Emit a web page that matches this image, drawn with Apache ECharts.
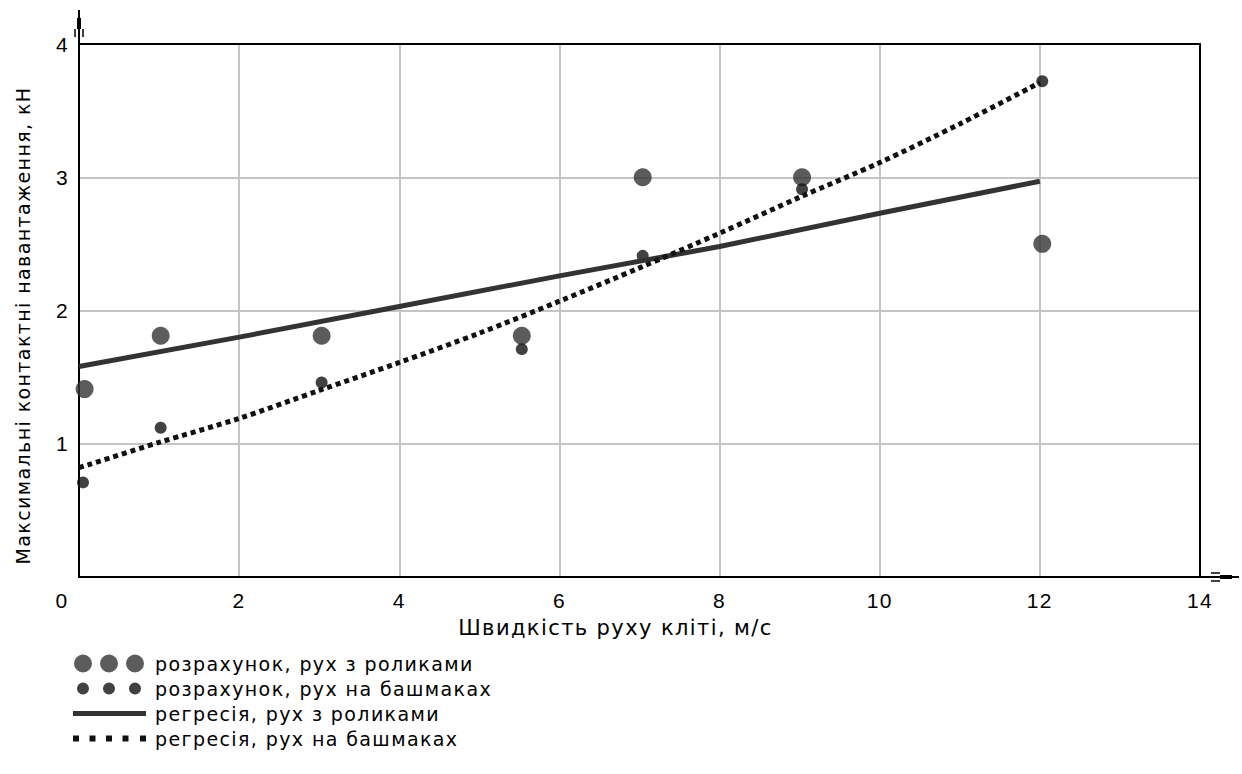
<!DOCTYPE html>
<html>
<head>
<meta charset="utf-8">
<script src="https://cdn.jsdelivr.net/npm/echarts@6/dist/echarts.min.js"></script>
<style>
  html, body { margin: 0; padding: 0; background: #fff; }
  #chart { width: 1242px; height: 774px; }
  #chart text { letter-spacing: 1.4px; }
</style>
</head>
<body>
<div id="chart"></div>
<script>
// розрахунок, рух з роликами
const rollerX = [0.07, 1.02, 3.03, 5.53, 7.04, 9.03, 12.03];
const rollerY = [1.41, 1.81, 1.81, 1.81, 3.0, 3.0, 2.5];
// розрахунок, рух на башмаках
const shoeX = [0.05, 1.02, 3.03, 5.53, 7.04, 9.03, 12.03];
const shoeY = [0.71, 1.12, 1.46, 1.71, 2.41, 2.91, 3.72];
// регресія, рух з роликами
const regRollerX = [0, 2, 4, 6, 8, 10, 12];
const regRollerY = [1.58, 1.80, 2.03, 2.26, 2.48, 2.73, 2.97];
// регресія, рух на башмаках
const regShoeX = [0, 1, 2, 3, 4, 5, 6, 7, 8, 9, 10, 11, 12];
const regShoeY = [0.82, 1.01, 1.19, 1.40, 1.61, 1.83, 2.07, 2.32, 2.58, 2.85, 3.11, 3.40, 3.71];

const names = [
  "розрахунок, рух з роликами",
  "розрахунок, рух на башмаках",
  "регресія, рух з роликами",
  "регресія, рух на башмаках",
];

const font = "DejaVu Sans, Verdana, sans-serif";
const numFont = "Liberation Sans, Arial, sans-serif";
const gridLeft = 79, gridRight = 42, gridTop = 44, gridBottom = 197;
const W = 1242, H = 774;

const pair = (xs, ys) => xs.map((x, i) => [x, ys[i]]);

// legend icons (bbox padded to 73x18 so shapes keep their size)
const pad = "M0,0L0.01,0M73,18L72.99,18";
const bigDots = "path://" + pad +
  "M1,9A9,9 0 1 0 19,9A9,9 0 1 0 1,9Z" +
  "M27,9A9,9 0 1 0 45,9A9,9 0 1 0 27,9Z" +
  "M53,9A9,9 0 1 0 71,9A9,9 0 1 0 53,9Z";
const smallDots = "path://" + pad +
  "M4,9A6,6 0 1 0 16,9A6,6 0 1 0 4,9Z" +
  "M30,9A6,6 0 1 0 42,9A6,6 0 1 0 30,9Z" +
  "M56,9A6,6 0 1 0 68,9A6,6 0 1 0 56,9Z";
const solidIcon = "path://" + pad + "M0,6.5L73,6.5L73,11.5L0,11.5Z";
const dotIcon = "path://" + pad +
  "M0,6L6,6L6,12L0,12Z M16.5,6L22.5,6L22.5,12L16.5,12Z M33,6L39,6L39,12L33,12Z" +
  "M49.5,6L55.5,6L55.5,12L49.5,12Z M67,6L73,6L73,12L67,12Z";

const chart = echarts.init(document.getElementById("chart"), null, { renderer: "svg" });
const plotRight = W - gridRight, plotBottom = H - gridBottom;

const frameAxis = {
  type: "value", min: 0, axisLine: { onZero: false, lineStyle: { color: "#000", width: 2 } },
  axisTick: { show: false }, axisLabel: { show: false }, splitLine: { show: false },
};

chart.setOption({
  animation: false,
  backgroundColor: "#fff",
  grid: { left: gridLeft, right: gridRight, top: gridTop, bottom: gridBottom },
  xAxis: [
    {
      type: "value", min: 0, max: 14, interval: 2,
      name: "Швидкість руху кліті, м/с",
      nameLocation: "middle", nameGap: 40,
      nameTextStyle: { fontSize: 21, color: "#000", fontFamily: font, padding: [0, 48, 0, 0] },
      axisLine: { onZero: false, lineStyle: { color: "#000", width: 2 } },
      axisTick: { show: false },
      axisLabel: {
        fontSize: 21, color: "#000", fontFamily: numFont, margin: 13,
        formatter: (v) => (v === 0 ? "{z|0}" : String(v)),
        rich: { z: { fontSize: 21, fontFamily: numFont, color: "#000", padding: [0, 34, 0, 0] } },
      },
      splitLine: { lineStyle: { color: "#c4c4c4", width: 2 } },
    },
    Object.assign({}, frameAxis, { max: 14, position: "top" }),
  ],
  yAxis: [
    {
      type: "value", min: 0, max: 4, interval: 1,
      name: "Максимальні контактні навантаження, кН",
      nameLocation: "middle", nameGap: 47,
      nameTextStyle: { fontSize: 19, color: "#000", fontFamily: font, padding: [0, 30, 0, 0] },
      axisLine: { onZero: false, lineStyle: { color: "#000", width: 2 } },
      axisTick: { show: false },
      axisLabel: {
        fontSize: 21, color: "#000", fontFamily: numFont, margin: 10,
        formatter: (v) => (v === 0 ? "" : String(v)),
      },
      splitLine: { lineStyle: { color: "#c4c4c4", width: 2 } },
    },
    Object.assign({}, frameAxis, { max: 4, position: "right" }),
  ],
  legend: {
    orient: "vertical", left: 73, top: 654, padding: 0,
    itemWidth: 73, itemHeight: 18, itemGap: 6,
    selectedMode: false,
    itemStyle: { borderWidth: 0 },
    textStyle: { fontSize: 19, color: "#000", fontFamily: font, padding: [0, 0, 0, 4] },
    data: [
      { name: names[0], icon: bigDots },
      { name: names[1], icon: smallDots },
      { name: names[2], icon: solidIcon },
      { name: names[3], icon: dotIcon },
    ],
  },
  graphic: [
    // axis arrows beyond the plot box
    { type: "line", shape: { x1: gridLeft, y1: gridTop, x2: gridLeft, y2: 10 }, style: { stroke: "#000", lineWidth: 2 } },
    { type: "rect", shape: { x: gridLeft - 2, y: 18, width: 4, height: 11 }, style: { fill: "#000" } },
    { type: "line", shape: { x1: gridLeft - 4, y1: 29, x2: gridLeft - 4, y2: 37 }, style: { stroke: "#000", lineWidth: 1.5 } },
    { type: "line", shape: { x1: gridLeft + 4, y1: 29, x2: gridLeft + 4, y2: 37 }, style: { stroke: "#000", lineWidth: 1.5 } },
    { type: "line", shape: { x1: plotRight, y1: plotBottom, x2: W - 3, y2: plotBottom }, style: { stroke: "#000", lineWidth: 2 } },
    { type: "rect", shape: { x: 1220, y: plotBottom - 2, width: 12, height: 4 }, style: { fill: "#000" } },
    { type: "line", shape: { x1: 1211, y1: plotBottom - 4, x2: 1220, y2: plotBottom - 4 }, style: { stroke: "#000", lineWidth: 1.5 } },
    { type: "line", shape: { x1: 1211, y1: plotBottom + 4, x2: 1220, y2: plotBottom + 4 }, style: { stroke: "#000", lineWidth: 1.5 } },
  ],
  series: [
    {
      name: names[2], type: "line", data: pair(regRollerX, regRollerY),
      showSymbol: false, color: "#333",
      lineStyle: { color: "#333", width: 5 }, z: 3,
    },
    {
      name: names[3], type: "line", smooth: 0.3, data: pair(regShoeX, regShoeY),
      showSymbol: false, color: "#111",
      lineStyle: { color: "#111", width: 5, type: [5, 4], cap: "butt" }, z: 3,
    },
    {
      name: names[0], type: "scatter", data: pair(rollerX, rollerY),
      symbolSize: 18, itemStyle: { color: "#333" }, z: 2,
    },
    {
      name: names[1], type: "scatter", data: pair(shoeX, shoeY),
      symbolSize: 12, itemStyle: { color: "#111" }, z: 2,
    },
  ],
});
</script>
</body>
</html>
